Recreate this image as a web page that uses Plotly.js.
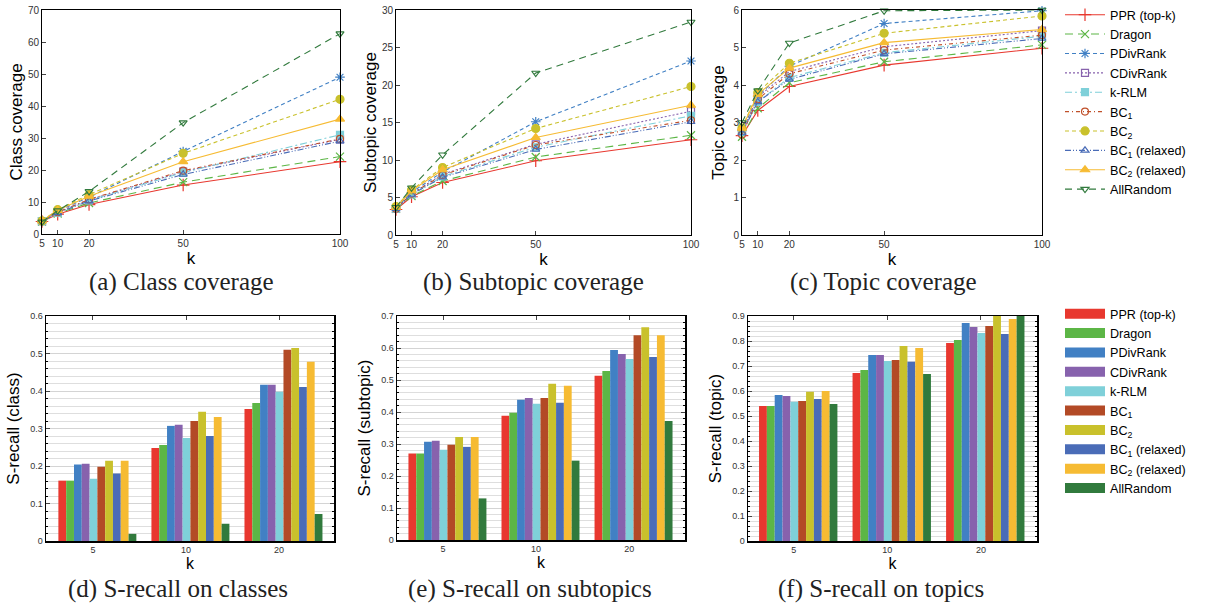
<!DOCTYPE html>
<html><head><meta charset="utf-8">
<script src="https://cdn.plot.ly/plotly-3.0.1.min.js"></script>
<style>html,body{margin:0;padding:0;background:#fff}#chart{width:1214px;height:603px}</style>
</head><body><div id="chart"></div>
<script>
// ---------- data ----------
const methods = ['PPR (top-k)', 'Dragon', 'PDivRank', 'CDivRank', 'k-RLM',
  'BC<sub>1</sub>', 'BC<sub>2</sub>', 'BC<sub>1</sub> (relaxed)', 'BC<sub>2</sub> (relaxed)', 'AllRandom'];
const kLine = [5, 10, 20, 50, 100];
const kBar = ['5', '10', '20'];

// rows follow the order of `methods`, columns follow kLine
const classCoverage = [
  [3.9, 6.2, 9.2, 15.3, 22.6],
  [3.9, 6.4, 9.7, 16.2, 24.2],
  [4.0, 7.2, 11.5, 25.8, 49.0],
  [4.0, 6.8, 10.7, 19.5, 29.6],
  [4.0, 6.7, 10.5, 19.2, 31.0],
  [4.0, 6.8, 10.8, 19.8, 29.7],
  [4.1, 7.6, 12.3, 25.2, 42.1],
  [4.0, 6.6, 10.3, 18.6, 29.0],
  [4.1, 7.4, 11.8, 22.6, 35.9],
  [3.8, 7.3, 13.3, 34.8, 62.6]
];
const subtopicCoverage = [
  [3.4, 5.1, 7.0, 9.9, 12.7],
  [3.5, 5.2, 7.2, 10.4, 13.3],
  [3.6, 5.7, 8.4, 15.1, 23.2],
  [3.5, 5.5, 8.1, 12.1, 16.5],
  [3.5, 5.4, 7.8, 11.7, 15.9],
  [3.5, 5.5, 8.0, 12.0, 15.3],
  [3.8, 6.0, 9.0, 14.2, 19.8],
  [3.5, 5.4, 7.7, 11.4, 15.1],
  [3.7, 5.9, 8.7, 13.0, 17.3],
  [3.7, 6.3, 10.7, 21.6, 28.4]
];
const topicCoverage = [
  [2.65, 3.32, 3.96, 4.53, 4.98],
  [2.62, 3.38, 4.06, 4.62, 5.07],
  [2.78, 3.70, 4.50, 5.64, 5.98],
  [2.75, 3.68, 4.36, 5.02, 5.45],
  [2.75, 3.55, 4.20, 4.86, 5.30],
  [2.68, 3.62, 4.30, 4.93, 5.33],
  [2.85, 3.80, 4.58, 5.38, 5.84],
  [2.72, 3.55, 4.15, 4.83, 5.24],
  [2.85, 3.75, 4.45, 5.13, 5.48],
  [3.00, 3.85, 5.12, 5.98, 6.00]
];
// rows follow `methods`, columns follow kBar
const srecallClass = [
  [0.161, 0.248, 0.352],
  [0.161, 0.256, 0.368],
  [0.204, 0.307, 0.417],
  [0.206, 0.310, 0.417],
  [0.166, 0.275, 0.398],
  [0.198, 0.320, 0.510],
  [0.214, 0.345, 0.515],
  [0.180, 0.280, 0.411],
  [0.214, 0.331, 0.478],
  [0.019, 0.046, 0.072]
];
const srecallSubtopic = [
  [0.270, 0.388, 0.513],
  [0.270, 0.398, 0.528],
  [0.307, 0.438, 0.594],
  [0.310, 0.444, 0.581],
  [0.282, 0.426, 0.566],
  [0.298, 0.444, 0.640],
  [0.322, 0.488, 0.665],
  [0.291, 0.429, 0.572],
  [0.322, 0.482, 0.640],
  [0.130, 0.248, 0.372]
];
const srecallTopic = [
  [0.540, 0.672, 0.792],
  [0.540, 0.684, 0.804],
  [0.584, 0.744, 0.872],
  [0.580, 0.744, 0.856],
  [0.557, 0.720, 0.832],
  [0.560, 0.724, 0.860],
  [0.597, 0.780, 0.900],
  [0.568, 0.717, 0.828],
  [0.600, 0.772, 0.888],
  [0.548, 0.668, 0.900]
];

// ---------- styles ----------
const lineColors = ['#e8382f', '#5cb646', '#4180c4', '#8762ad', '#7fd0d9', '#c0502a', '#c9c12c', '#4a6cb7', '#f6bb33', '#317a3d'];
const barColors  = ['#e8382f', '#5cb646', '#4180c4', '#8762ad', '#7fd0d9', '#b34a26', '#c9c12c', '#4a6cb7', '#f6bb33', '#317a3d'];
const dashes = ['solid', '8px,5px', '4px,3px', '2px,2px', '7px,3px,2px,3px', '4px,3px,1px,3px',
  '4px,3px', '6px,2px,1px,2px,1px,2px', 'solid', '7px,5px'];
const symbols = ['cross-thin-open', 'x-thin-open', 'asterisk-open', 'square-open', 'square',
  'circle-open', 'circle', 'triangle-up-open', 'triangle-up', 'triangle-down-open'];
const sizes = [9, 8, 8, 7, 7, 7, 8, 7, 8, 7];

const FONT = 'Liberation Sans, Arial, Helvetica, sans-serif';
const traces = [];

function addLines(data, ax, withLegend) {
  data.forEach((row, i) => {
    traces.push({
      type: 'scatter', mode: 'lines+markers', x: kLine, y: row, name: methods[i],
      xaxis: 'x' + ax, yaxis: 'y' + ax, cliponaxis: false,
      line: {color: lineColors[i], width: 1.1, dash: dashes[i]},
      marker: {symbol: symbols[i], size: sizes[i], color: lineColors[i], line: {color: lineColors[i], width: 1.2}},
      showlegend: withLegend, legend: 'legend', legendgroup: 'l' + i
    });
  });
}
addLines(classCoverage, '', true);
addLines(subtopicCoverage, '2', false);
addLines(topicCoverage, '3', false);

const BW = 0.0838, OFF0 = -0.372;
function addBars(data, ax) {
  data.forEach((row, i) => {
    traces.push({
      type: 'bar', x: kBar, y: row, name: methods[i],
      xaxis: 'x' + ax, yaxis: 'y' + ax,
      width: BW, offset: OFF0 + i * BW,
      marker: {color: barColors[i], line: {width: 0}},
      showlegend: false
    });
  });
}
addBars(srecallClass, '4');
addBars(srecallSubtopic, '5');
addBars(srecallTopic, '6');

// legend entries for the bar panels (thick line samples look like filled boxes)
methods.forEach((m, i) => {
  traces.push({
    type: 'scatter', mode: 'lines', x: [null], y: [null], name: m,
    xaxis: 'x4', yaxis: 'y4', line: {color: barColors[i], width: 11},
    showlegend: true, legend: 'legend2', hoverinfo: 'skip'
  });
});

// ---------- layout ----------
const W = 1214, H = 603;
const dx = (a, b) => [a / W, b / W];
const dy = (top, bot) => [1 - bot / H, 1 - top / H];

function lineX(dom, anchor) {
  return {domain: dom, anchor: anchor, range: [5, 100], tickvals: kLine, ticks: 'inside', ticklen: 4,
    showline: true, mirror: true, linecolor: '#000', linewidth: 1, showgrid: false, zeroline: false,
    tickfont: {size: 10, color: '#333', family: FONT},
    title: {text: 'k', font: {size: 17, family: FONT, color: '#000'}, standoff: 2}};
}
function lineY(dom, anchor, max, dt, title, so) {
  return {domain: dom, anchor: anchor, range: [0, max], dtick: dt, ticks: 'inside', ticklen: 4,
    showline: true, mirror: true, linecolor: '#000', linewidth: 1, showgrid: false, zeroline: false,
    tickfont: {size: 10, color: '#333', family: FONT},
    title: {text: title, font: {size: 17, family: FONT, color: '#000'}, standoff: so}};
}
function barX(dom, anchor, r) {
  return {domain: dom, anchor: anchor, type: 'category', range: r, ticks: 'inside', ticklen: 4,
    showline: true, mirror: 'ticks', linecolor: '#000', linewidth: 1.5, showgrid: false, zeroline: false,
    layer: 'below traces',
    tickfont: {size: 9, color: '#333', family: FONT},
    title: {text: 'k', font: {size: 16, family: FONT, color: '#000'}, standoff: 0}};
}
function barY(dom, anchor, max, title) {
  return {domain: dom, anchor: anchor, range: [0, max], dtick: 0.1, ticks: 'inside', ticklen: 4,
    showline: true, mirror: 'ticks', linecolor: '#000', linewidth: 1.5, zeroline: false,
    showgrid: true, gridcolor: '#d4d4d4', gridwidth: 1, layer: 'below traces',
    minor: {dtick: 0.02, showgrid: true, gridcolor: '#dedede', gridwidth: 1, ticks: 'inside', ticklen: 2, tickcolor: '#000'},
    tickfont: {size: 9, color: '#333', family: FONT},
    title: {text: title, font: {size: 17, family: FONT, color: '#000'}, standoff: 6}};
}

const capFont = {family: 'Liberation Serif, Times New Roman, serif', size: 25, color: '#222'};
function cap(text, xc, yc) {
  return {text: text, xref: 'paper', yref: 'paper', x: xc / W, y: 1 - yc / H,
    xanchor: 'center', yanchor: 'middle', showarrow: false, font: capFont, borderpad: 0};
}

const legFont = {size: 12.6, family: FONT, color: '#000'};
const layout = {
  width: W, height: H, margin: {l: 0, r: 0, t: 0, b: 0},
  paper_bgcolor: '#fff', plot_bgcolor: '#fff',
  font: {family: FONT, color: '#000'},
  barmode: 'overlay',
  xaxis: lineX(dx(42, 340), 'y'),
  yaxis: lineY(dy(10, 234), 'x', 70, 10, 'Class coverage', 0),
  xaxis2: lineX(dx(396, 691), 'y2'),
  yaxis2: lineY(dy(10, 235), 'x2', 30, 5, 'Subtopic coverage', 0),
  xaxis3: lineX(dx(742, 1042), 'y3'),
  yaxis3: lineY(dy(10, 235), 'x3', 6, 1, 'Topic coverage', 4),
  xaxis4: barX(dx(46, 334), 'y4', [-0.505, 2.59]),
  yaxis4: barY(dy(316, 541), 'x4', 0.6, 'S-recall (class)'),
  xaxis5: barX(dx(397, 685), 'y5', [-0.495, 2.60]),
  yaxis5: barY(dy(316, 540), 'x5', 0.7, 'S-recall (subtopic)'),
  xaxis6: barX(dx(748, 1037), 'y6', [-0.49, 2.60]),
  yaxis6: barY(dy(316, 541), 'x6', 0.9, 'S-recall (topic)'),
  legend: {x: 1060 / W, y: 1, xanchor: 'left', yanchor: 'top', bgcolor: 'rgba(0,0,0,0)',
    font: legFont, tracegroupgap: 0, itemwidth: 40},
  legend2: {x: 1060 / W, y: 1 - 299 / H, xanchor: 'left', yanchor: 'top', bgcolor: 'rgba(0,0,0,0)',
    font: legFont, tracegroupgap: 0, itemwidth: 40},
  annotations: [
    cap('(a) Class coverage', 181, 282),
    cap('(b) Subtopic coverage', 533, 282),
    cap('(c) Topic coverage', 883, 282),
    cap('(d) S-recall on classes', 178, 589),
    cap('(e) S-recall on subtopics', 530, 589),
    cap('(f) S-recall on topics', 881, 589)
  ]
};

Plotly.newPlot('chart', traces, layout, {staticPlot: true, displayModeBar: false});
</script></body></html>
